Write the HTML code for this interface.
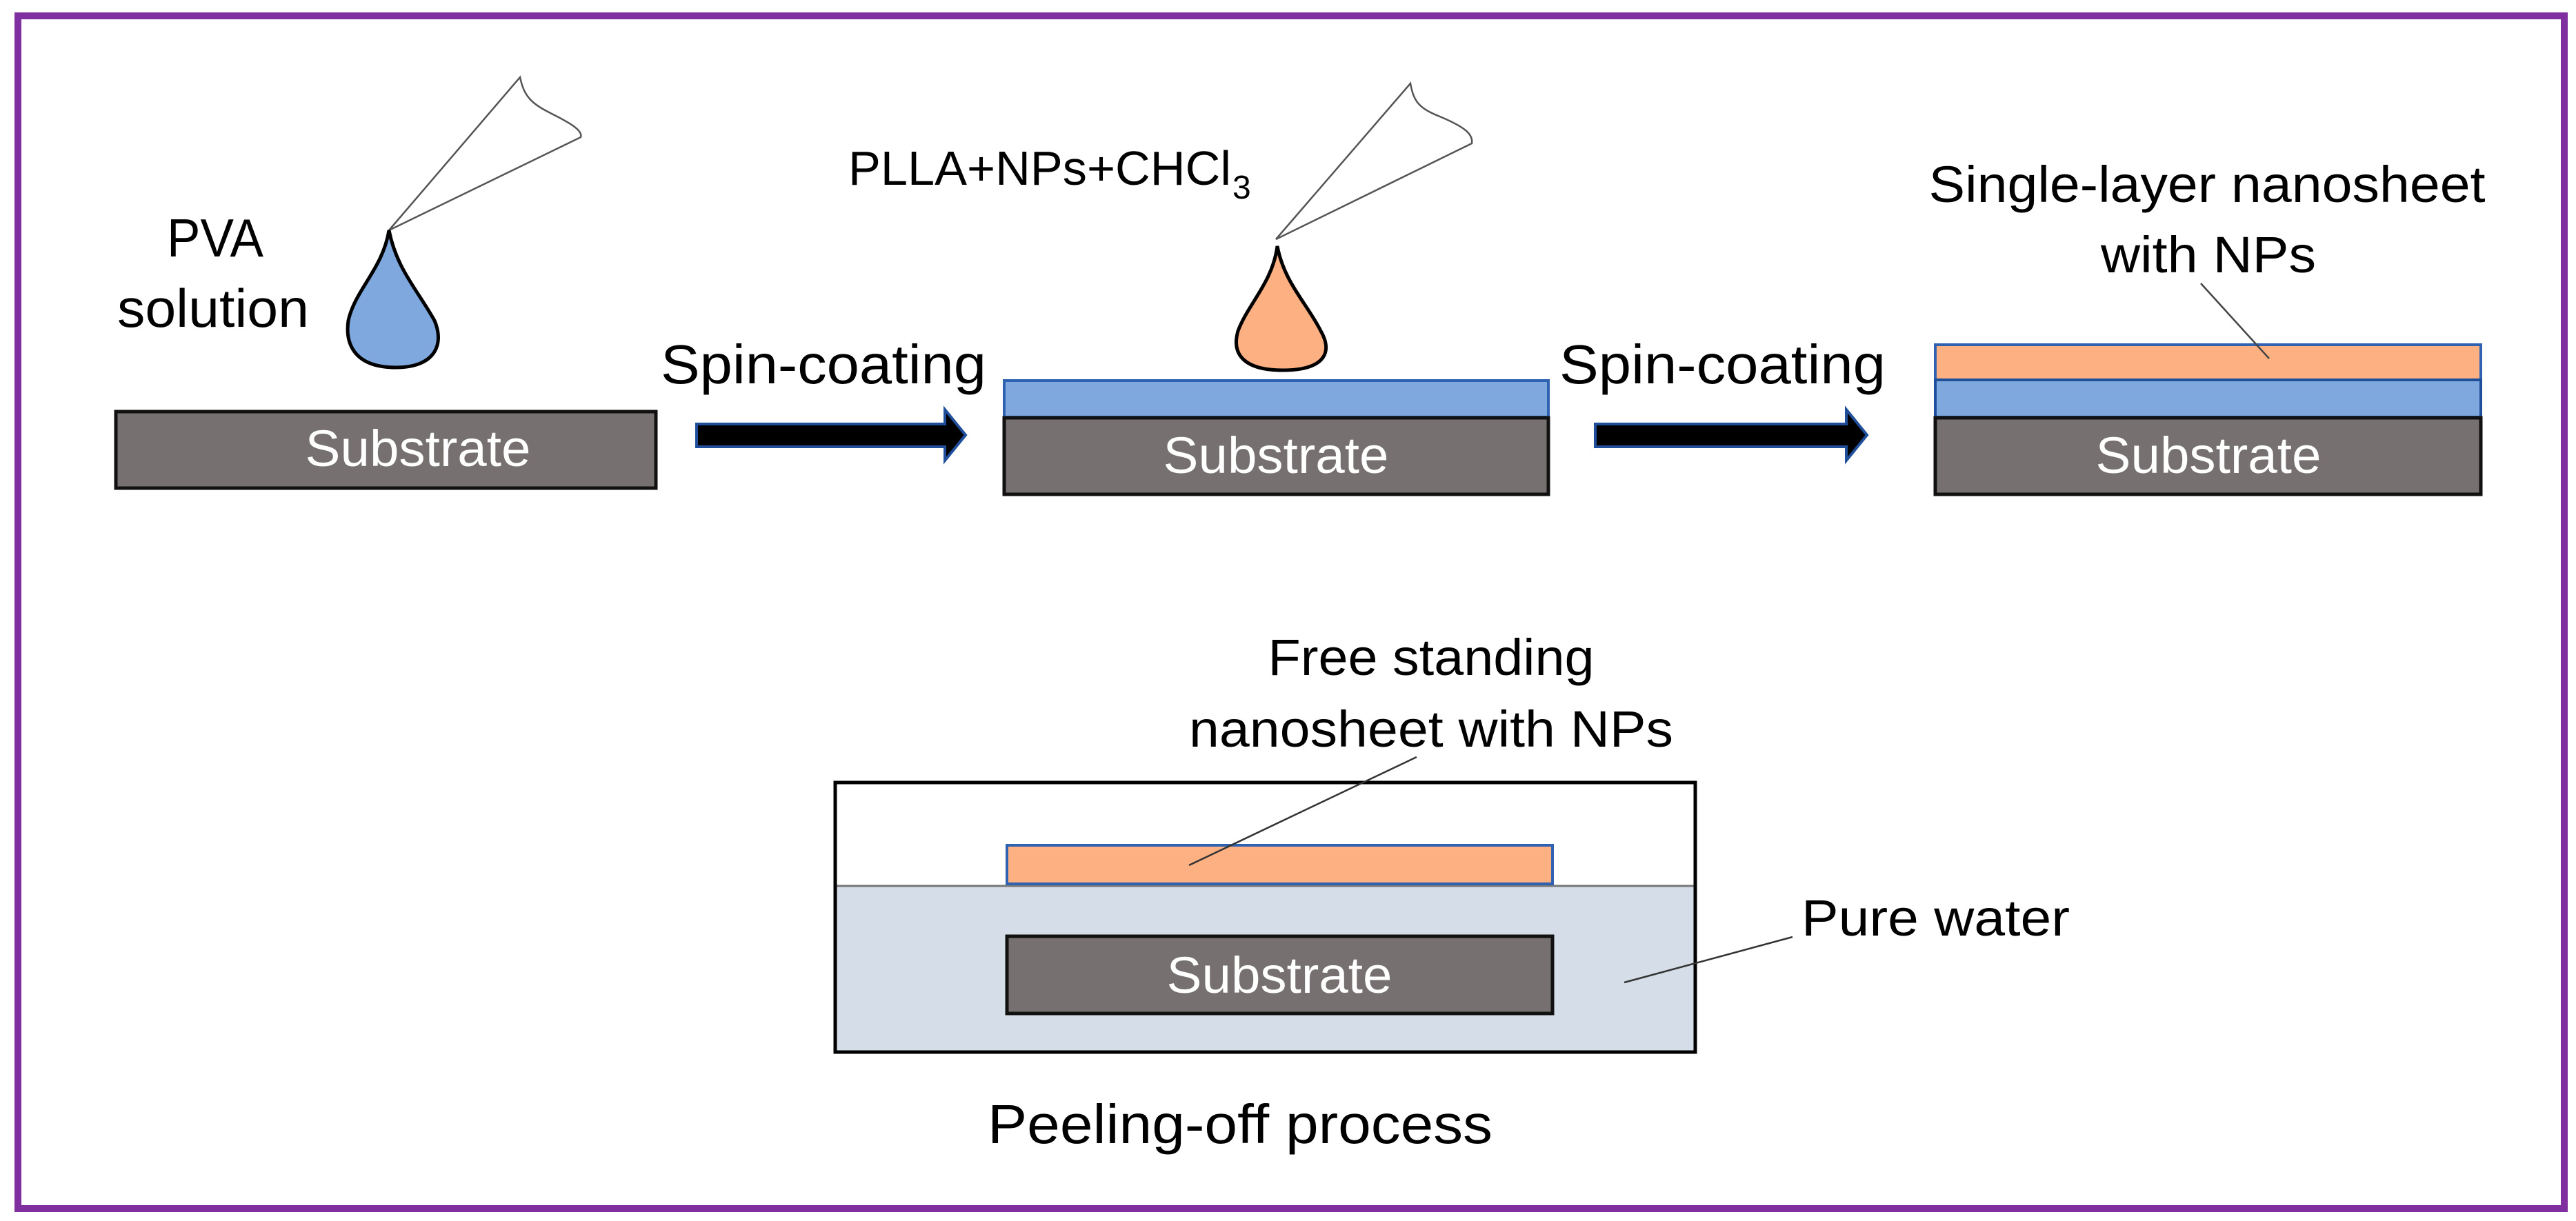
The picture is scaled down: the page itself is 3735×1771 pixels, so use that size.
<!DOCTYPE html>
<html><head><meta charset="utf-8"><style>html,body{margin:0;padding:0;background:#fff}svg{display:block}text{font-family:"Liberation Sans",sans-serif}</style></head><body>
<svg width="3735" height="1771" viewBox="0 0 3735 1771" xmlns="http://www.w3.org/2000/svg">
<rect x="0" y="0" width="3735" height="1771" fill="#fff"/>
<rect x="26" y="23" width="3692" height="1730" fill="none" stroke="#7f2fa0" stroke-width="10"/>

<!-- Step 1 -->
<text x="242" y="372" font-size="78" textLength="140" lengthAdjust="spacingAndGlyphs">PVA</text>
<text x="170" y="474" font-size="78" textLength="278" lengthAdjust="spacingAndGlyphs">solution</text>
<path d="M564,112 L754,112" stroke="none"/>
<path d="M564,334 L754,112 C760,140 770,150 800,165 C830,180 845,190 842,199 Z" fill="none" stroke="#555" stroke-width="2.5"/>
<path d="M564,334 C575,390 605,420 630,465 C645,500 630,533 574,533 C515,533 500,500 505,465 C515,420 555,390 564,334 Z" fill="#7ea8de" stroke="#000" stroke-width="5"/>
<rect x="168" y="597" width="783" height="111" fill="#767170" stroke="#111" stroke-width="5"/>
<text x="606" y="676" font-size="74" fill="#fff" text-anchor="middle" textLength="327" lengthAdjust="spacingAndGlyphs">Substrate</text>

<text x="958" y="556" font-size="80" textLength="472" lengthAdjust="spacingAndGlyphs">Spin-coating</text>
<path d="M1010,615 L1370,615 L1370,594 L1400,631 L1370,668 L1370,648 L1010,648 Z" fill="#000" stroke="#1f4e9a" stroke-width="4"/>

<!-- Step 2 -->
<text x="1230" y="268" font-size="70" textLength="555" lengthAdjust="spacingAndGlyphs">PLLA+NPs+CHCl</text>
<text x="1787" y="288" font-size="48">3</text>
<path d="M1850,347 L2045,121 C2050,150 2060,158 2090,170 C2125,185 2136,195 2134,208 Z" fill="none" stroke="#555" stroke-width="2.5"/>
<path d="M1852,357 C1862,410 1895,440 1915,480 C1935,515 1915,537 1860,537 C1805,537 1785,515 1795,480 C1810,440 1845,410 1852,357 Z" fill="#fdb183" stroke="#000" stroke-width="5"/>
<rect x="1456" y="552" width="789" height="53" fill="#7ea8de" stroke="#2f62b0" stroke-width="4"/>
<rect x="1456" y="606" width="789" height="111" fill="#767170" stroke="#111" stroke-width="5"/>
<text x="1850" y="686" font-size="74" fill="#fff" text-anchor="middle" textLength="327" lengthAdjust="spacingAndGlyphs">Substrate</text>

<text x="2261" y="556" font-size="80" textLength="473" lengthAdjust="spacingAndGlyphs">Spin-coating</text>
<path d="M2313,615 L2677,615 L2677,594 L2707,631 L2677,668 L2677,648 L2313,648 Z" fill="#000" stroke="#1f4e9a" stroke-width="4"/>

<!-- Step 3 -->
<text x="3200" y="293" font-size="74" text-anchor="middle" textLength="807" lengthAdjust="spacingAndGlyphs">Single-layer nanosheet</text>
<text x="3202" y="395" font-size="74" text-anchor="middle" textLength="312" lengthAdjust="spacingAndGlyphs">with NPs</text>
<rect x="2806" y="500" width="791" height="51" fill="#fdb183" stroke="#2f62b0" stroke-width="4"/>
<rect x="2806" y="551" width="791" height="54" fill="#7ea8de" stroke="#1f4e9a" stroke-width="4"/>
<rect x="2806" y="606" width="791" height="111" fill="#767170" stroke="#111" stroke-width="5"/>
<text x="3202" y="686" font-size="74" fill="#fff" text-anchor="middle" textLength="327" lengthAdjust="spacingAndGlyphs">Substrate</text>
<line x1="3191" y1="411" x2="3290" y2="520" stroke="#444" stroke-width="2.5"/>

<!-- Peeling -->
<text x="2075" y="979" font-size="74" text-anchor="middle" textLength="473" lengthAdjust="spacingAndGlyphs">Free standing</text>
<text x="2075" y="1083" font-size="74" text-anchor="middle" textLength="702" lengthAdjust="spacingAndGlyphs">nanosheet with NPs</text>
<rect x="1211" y="1285" width="1247" height="241" fill="#d5dee8"/>
<line x1="1211" y1="1285" x2="2458" y2="1285" stroke="#777" stroke-width="3"/>
<rect x="1211" y="1135" width="1247" height="391" fill="none" stroke="#000" stroke-width="5"/>
<rect x="1460" y="1226" width="791" height="56" fill="#fdb183" stroke="#2f62b0" stroke-width="4"/>
<rect x="1460" y="1358" width="791" height="112" fill="#767170" stroke="#111" stroke-width="5"/>
<text x="1855" y="1440" font-size="74" fill="#fff" text-anchor="middle" textLength="327" lengthAdjust="spacingAndGlyphs">Substrate</text>
<line x1="2054" y1="1098" x2="1724" y2="1255" stroke="#333" stroke-width="2.5"/>
<text x="2612" y="1357" font-size="74" textLength="389" lengthAdjust="spacingAndGlyphs">Pure water</text>
<line x1="2599" y1="1359" x2="2355" y2="1425" stroke="#333" stroke-width="2.5"/>
<text x="1432" y="1658" font-size="80" textLength="732" lengthAdjust="spacingAndGlyphs">Peeling-off process</text>
</svg>
</body></html>
